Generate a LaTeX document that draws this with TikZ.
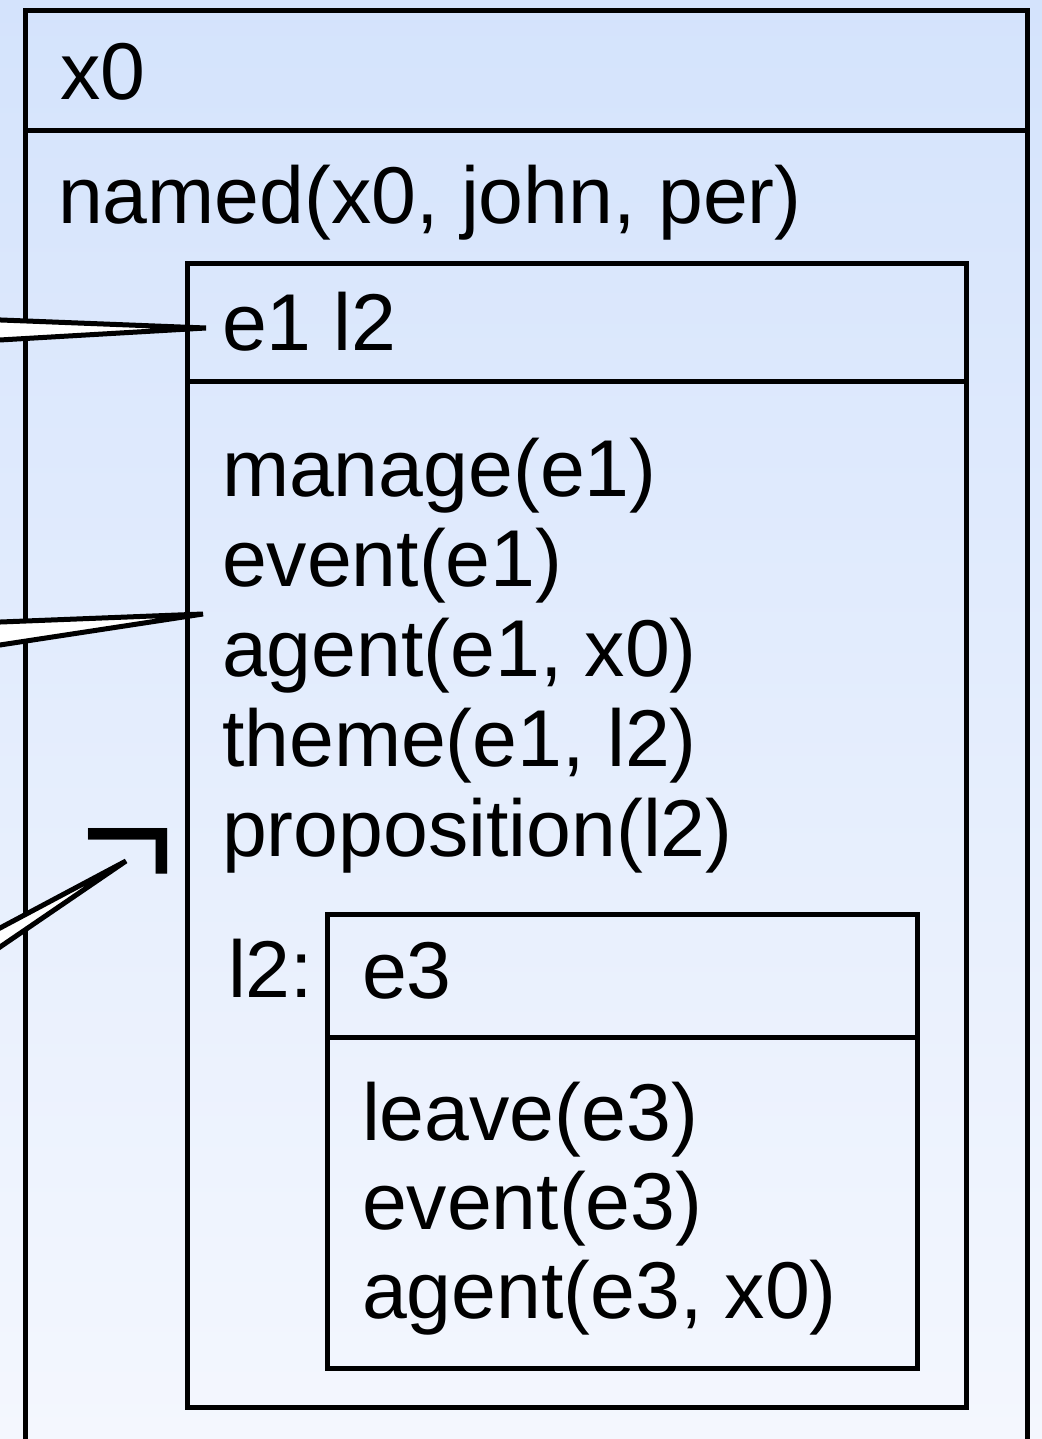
\documentclass[tikz,border=0pt]{standalone}
\usepackage{fontspec}
\setmainfont{Liberation Sans}
\definecolor{bgtop}{RGB}{212,227,252}
\definecolor{bgbot}{RGB}{244,247,254}
\begin{document}
\begin{tikzpicture}[x=0.5pt,y=-0.5pt,
  txt/.style={anchor=base west, inner sep=0pt, outer sep=0pt, font=\fontsize{40.3}{48}\selectfont},
  drsbox/.style={draw=black, line width=2.5pt},
  callout/.style={draw=black, fill=white, line width=2.5pt}]
\useasboundingbox (0,0) rectangle (1042,1439);
\clip (0,0) rectangle (1042,1439);
\shade[top color=bgtop, bottom color=bgbot] (0,0) rectangle (1042,1439);

% outer box (open at the bottom)
\coordinate (o1) at (25,10.5);
\coordinate (o2) at (1027,10.5);
\draw[drsbox] (25,1470) -- (o1) -- (o2) -- (1027,1470);
\draw[drsbox] (25,130.5) -- (1027,130.5);
\node[txt] (x0) at (60,100) {x0};
\node[txt] (named) at (58,224) {named(x0, john, per)};

% box 1
\draw[drsbox] (187.5,263) rectangle (966,1407.5);
\draw[drsbox] (187.5,381) -- (966,381);
\node[txt] (h1) at (222,350) {e1 l2};
\node[txt] (c1) at (222,496) {manage(e1)};
\node[txt] (c2) at (222,586) {event(e1)};
\node[txt] (c3) at (222,676) {agent(e1, x0)};
\node[txt] (c4) at (222,766) {theme(e1, l2)};
\node[txt] (c5) at (222,856) {proposition(l2)};
\node[txt] (lab) at (228,997) {l2:};

% box 2
\draw[drsbox] (327.5,914) rectangle (917.5,1368.5);
\draw[drsbox] (327.5,1037) -- (917.5,1037);
\node[txt] (h2) at (362,998) {e3};
\node[txt] (d1) at (362,1140) {leave(e3)};
\node[txt] (d2) at (362,1229) {event(e3)};
\node[txt] (d3) at (362,1318) {agent(e3, x0)};

% negation
\node[anchor=base west, inner sep=0pt, font=\fontsize{81.5}{90}\selectfont] (neg) at (80.4,888) {¬};

% callouts
\coordinate (t1) at (206,328);
\coordinate (t2) at (203,614);
\coordinate (t3) at (126,861);
\draw[callout] (-40,318.4) -- (t1) -- (-40,342.3) -- cycle;
\draw[callout] (-40,623.6) -- (t2) -- (-40,651.1) -- cycle;
\draw[callout] (-40,949.3) -- (t3) -- (-40,974.3) -- cycle;
\end{tikzpicture}
\end{document}
